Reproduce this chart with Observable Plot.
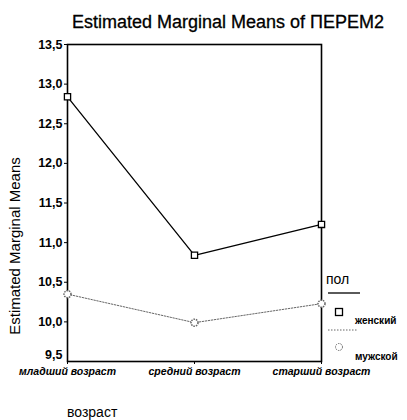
<!DOCTYPE html>
<html><head><meta charset="utf-8">
<script src="https://cdn.jsdelivr.net/npm/d3@7"></script>
<script src="https://cdn.jsdelivr.net/npm/@observablehq/plot@0.6"></script>
<style>body{margin:0;background:#fff;} svg{font-family:"Liberation Sans",Arial,sans-serif;}</style>
</head><body><div id="chart"></div>
<script>
const ages = ["младший возраст", "средний возраст", "старший возраст"];
const female = [12.84, 10.84, 11.23];
const male = [10.35, 9.99, 10.23];
const yTicks = [10.0, 10.5, 11.0, 11.5, 12.0, 12.5, 13.0, 13.5];
const yBottomTick = [9.5];
const seriesNames = ["женский", "мужской"];

const data = [
  ...ages.map((a, i) => ({age: a, v: female[i], sex: seriesNames[0]})),
  ...ages.map((a, i) => ({age: a, v: male[i], sex: seriesNames[1]}))
];
const fem = data.filter(d => d.sex === seriesNames[0]);
const mal = data.filter(d => d.sex === seriesNames[1]);
const fmt = d => d.toFixed(1).replace(".", ",");

const chart = Plot.plot({
  width: 407, height: 420,
  marginLeft: 67, marginRight: 86, marginTop: 44, marginBottom: 59,
  style: {fontFamily: "Liberation Sans, Arial, sans-serif", background: "#fff"},
  x: {type: "point", domain: ages, padding: 0, label: null},
  y: {domain: [9.5, 13.5], label: null},
  marks: [
    Plot.frame({stroke: "#000", strokeWidth: 1.6}),
    Plot.axisY({ticks: yTicks, tickFormat: fmt, tickSize: 3, tickPadding: 2, fontSize: 12.5, fontWeight: "bold", label: null}),
    Plot.axisY({ticks: yBottomTick, tickFormat: fmt, tickSize: 0, tickPadding: 5, fontSize: 12.5, fontWeight: "bold", dy: -7, label: null}),
    Plot.axisX({tickSize: 3, tickPadding: 3, fontSize: 10.5, fontWeight: "bold", fontStyle: "italic", label: null}),
    Plot.line(mal, {x: "age", y: "v", stroke: "#666", strokeWidth: 1, strokeDasharray: "1.5,1.5"}),
    Plot.dot(mal, {x: "age", y: "v", r: 3.5, stroke: "#666", strokeDasharray: "1.5,1", fill: "white"}),
    Plot.line(fem, {x: "age", y: "v", stroke: "#000", strokeWidth: 1.3}),
    Plot.dot(fem, {x: "age", y: "v", symbol: "square", r: 3.5, stroke: "#000", strokeWidth: 1.3, fill: "white"})
  ]
});

const svg = d3.select(chart);
svg.append("text").attr("x", 228).attr("y", 28).attr("text-anchor", "middle")
  .attr("font-size", 18).attr("fill", "#000").attr("stroke", "#000").attr("stroke-width", 0.3)
  .text("Estimated Marginal Means of ПЕРЕМ2");
svg.append("text").attr("transform", "translate(20,246) rotate(-90)").attr("text-anchor", "middle")
  .attr("font-size", 15).attr("fill", "#000").text("Estimated Marginal Means");
svg.append("text").attr("x", 67).attr("y", 417).attr("text-anchor", "start").attr("font-size", 14).attr("fill", "#000").text("возраст");
// legend
svg.append("text").attr("x", 326).attr("y", 284).attr("text-anchor", "start").attr("font-size", 14).attr("fill", "#000").text("пол");
svg.append("line").attr("x1", 328).attr("x2", 360).attr("y1", 293).attr("y2", 293).attr("stroke", "#000").attr("stroke-width", 1.3);
svg.append("rect").attr("x", 335.5).attr("y", 308.5).attr("width", 7).attr("height", 7).attr("fill", "white").attr("stroke", "#000").attr("stroke-width", 1.3);
svg.append("text").attr("x", 355).attr("y", 324).attr("text-anchor", "start").attr("font-size", 10).attr("font-weight", "bold").attr("fill", "#000").text(seriesNames[0]);
svg.append("line").attr("x1", 328).attr("x2", 358).attr("y1", 330).attr("y2", 330).attr("stroke", "#666").attr("stroke-dasharray", "1.5,1.5");
svg.append("circle").attr("cx", 339).attr("cy", 347).attr("r", 3.5).attr("fill", "white").attr("stroke", "#666").attr("stroke-dasharray", "1.5,1");
svg.append("text").attr("x", 355).attr("y", 360).attr("text-anchor", "start").attr("font-size", 10).attr("font-weight", "bold").attr("fill", "#000").text(seriesNames[1]);

document.getElementById("chart").appendChild(chart);
</script></body></html>
